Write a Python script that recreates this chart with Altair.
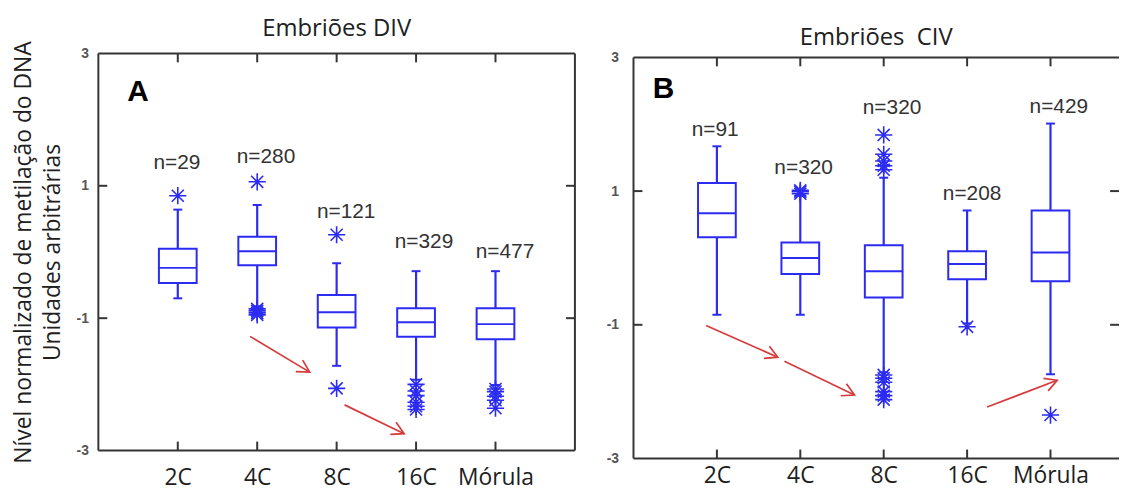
import json
import math
import altair as alt
import pandas as pd

# ---------------- data ----------------
stages = ["2C", "4C", "8C", "16C", "Mórula"]
stage_pos = [1, 2, 3, 4, 5]
y_ticks = [-3, -1, 1, 3]

# Panel A - Embriões DIV
div_title = "Embriões DIV"
div_letter = "A"
div_letter_xy = [0.50, 2.42]
div_n = [29, 280, 121, 329, 477]
div_q1 = [-0.47, -0.20, -1.14, -1.28, -1.32]
div_med = [-0.24, 0.01, -0.91, -1.06, -1.09]
div_q3 = [0.05, 0.23, -0.65, -0.85, -0.85]
div_wlo = [-0.70, -0.82, -1.72, -1.93, -2.01]
div_whi = [0.64, 0.71, -0.17, -0.29, -0.29]
div_outliers = [
    [0.85],
    [1.06, -0.86, -0.89, -0.92, -0.95],
    [0.26, -2.06],
    [-2.00, -2.10, -2.17, -2.27, -2.33, -2.38],
    [-2.07, -2.11, -2.18, -2.24, -2.36],
]
div_n_x = [0.99, 2.11, 3.12, 4.10, 5.12]
div_n_y = [1.35, 1.44, 0.61, 0.15, 0.00]
div_arrows = [
    [1.91, -1.275, 2.66, -1.815],
    [3.10, -2.31, 3.85, -2.745],
]

# Panel B - Embriões CIV
civ_title = "Embriões\u00a0 CIV"
civ_letter = "B"
civ_letter_xy = [0.36, 2.52]
civ_n = [91, 320, 320, 208, 429]
civ_q1 = [0.31, -0.24, -0.59, -0.32, -0.35]
civ_med = [0.67, 0.00, -0.20, -0.09, 0.08]
civ_q3 = [1.12, 0.23, 0.19, 0.10, 0.71]
civ_wlo = [-0.85, -0.85, -1.71, -0.98, -1.74]
civ_whi = [1.67, 0.93, 1.20, 0.71, 2.01]
civ_outliers = [
    [],
    [0.96, 0.99, 1.01],
    [1.84, 1.55, 1.45, 1.38, 1.32, -1.75, -1.80, -1.86, -2.00, -2.06, -2.12],
    [-1.03],
    [-2.35],
]
civ_n_x = [0.98, 2.04, 3.10, 4.06, 5.10]
civ_n_y = [1.92, 1.35, 2.24, 0.96, 2.26]
civ_arrows = [
    [0.87, -1.01, 1.73, -1.485],
    [1.81, -1.545, 2.65, -2.05],
    [4.24, -2.23, 5.08, -1.83],
]

y_title = ["Nível normalizado de metilação do DNA", "Unidades arbitrárias"]

# ---------------- style ----------------
BLUE = "#2b2bf2"
RED = "#d63b3b"
FRAME = "#353535"
FONT = "Open Sans"
ASTERISK = "M-1,0L1,0M0,-1L0,1M-0.7,-0.7L0.7,0.7M-0.7,0.7L0.7,-0.7"
CHEVRON = "M-1,-0.55L0,0L-1,0.55"
TICK_PX = 9.0

label_expr = json.dumps(stages, ensure_ascii=False) + "[datum.value - 1]"
ylabel_expr = "datum.value < 0 ? '-' + abs(datum.value) : '' + datum.value"


def panel(title, letter, letter_xy, n, q1, med, q3, wlo, whi,
          outliers, n_x, n_y, arrows, width, px_x, frame_h, top_gap,
          ylabel_pad, xlabel_pad, right_border, ytitle):
    # frame spans y in [-3, 3]; the scale reaches a little higher when the
    # box has to sit lower under the title (top_gap pixels)
    xmax = width / px_x
    px_y = frame_h / 6.0
    ytop = 3 + top_gap / px_y
    height = frame_h + top_gap
    hw = 19.0 / px_x
    tx = TICK_PX / px_x
    ty = TICK_PX / px_y

    boxes = pd.DataFrame({
        "pos": stage_pos, "stage": stages, "n": n, "q1": q1, "med": med,
        "q3": q3, "wlo": wlo, "whi": whi, "nx": n_x, "ny": n_y,
    })
    boxes["label"] = ["n=" + str(v) for v in n]
    boxes["x1"] = boxes["pos"] - hw
    boxes["x2"] = boxes["pos"] + hw

    out_rows = []
    for p, vals in zip(stage_pos, outliers):
        for v in vals:
            out_rows.append({"pos": p, "v": v})
    out_df = pd.DataFrame(out_rows, columns=["pos", "v"])

    cap_rows = []
    for p, lo, hi in zip(stage_pos, wlo, whi):
        cap_rows.append({"pos": p, "v": lo})
        cap_rows.append({"pos": p, "v": hi})
    cap_df = pd.DataFrame(cap_rows)

    arr_rows = []
    for x1, y1, x2, y2 in arrows:
        ang = math.degrees(math.atan2(-(y2 - y1) * px_y, (x2 - x1) * px_x)) % 360
        arr_rows.append({"x1": x1, "y1": y1, "x2": x2, "y2": y2, "angle": ang})
    arr_df = pd.DataFrame(arr_rows)

    # frame and inward ticks (MATLAB-style box)
    seg = [
        {"x": 0, "x2": xmax, "y": -3, "y2": -3},
        {"x": 0, "x2": xmax, "y": 3, "y2": 3},
        {"x": 0, "x2": 0, "y": -3, "y2": 3},
    ]
    if right_border:
        seg.append({"x": xmax, "x2": xmax, "y": -3, "y2": 3})
    for p in stage_pos:
        seg.append({"x": p, "x2": p, "y": -3, "y2": -3 + ty})
        seg.append({"x": p, "x2": p, "y": 3, "y2": 3 - ty})
    for yy in (-1, 1):
        seg.append({"x": 0, "x2": tx, "y": yy, "y2": yy})
        seg.append({"x": xmax - tx, "x2": xmax, "y": yy, "y2": yy})
    seg_df = pd.DataFrame(seg)

    letter_df = pd.DataFrame({"x": [letter_xy[0]], "y": [letter_xy[1]], "t": [letter]})

    xs = alt.Scale(domain=[0, xmax], nice=False, zero=False)
    ys = alt.Scale(domain=[-3, ytop], nice=False, zero=False)

    x_axis = alt.Axis(values=stage_pos, labelExpr=label_expr, title=None,
                      domain=False, ticks=False, grid=False, labelFont=FONT,
                      labelFontSize=23, labelColor="#1e1e1e",
                      labelPadding=xlabel_pad, labelFlush=False)
    if ytitle:
        y_axis = alt.Axis(values=y_ticks, labelExpr=ylabel_expr, title=ytitle,
                          domain=False, ticks=False, grid=False,
                          labelFont="Liberation Sans", labelFontWeight="bold",
                          labelFontSize=14, labelColor="#555555",
                          labelPadding=ylabel_pad, titleFont=FONT,
                          titleFontSize=23, titleFontWeight="normal",
                          titleColor="#202020", titleAngle=270,
                          titleAlign="center", titleBaseline="top",
                          titleX=-86, titleY=height / 2, titleLineHeight=29)
    else:
        y_axis = alt.Axis(values=y_ticks, labelExpr=ylabel_expr, title=None,
                          domain=False, ticks=False, grid=False,
                          labelFont="Liberation Sans", labelFontWeight="bold",
                          labelFontSize=14, labelColor="#555555",
                          labelPadding=ylabel_pad)

    def X(f):
        return alt.X(f + ":Q", scale=xs, axis=x_axis)

    def Y(f):
        return alt.Y(f + ":Q", scale=ys, axis=y_axis)

    base = alt.Chart(boxes)
    frame = alt.Chart(seg_df).mark_rule(color=FRAME, strokeWidth=2).encode(
        x=X("x"), x2="x2", y=Y("y"), y2="y2")
    rects = base.mark_rect(fillOpacity=0, stroke=BLUE, strokeWidth=2).encode(
        x=X("x1"), x2="x2", y=Y("q1"), y2="q3")
    medians = base.mark_rule(color=BLUE, strokeWidth=2).encode(
        x=X("x1"), x2="x2", y=Y("med"))
    wh_hi = base.mark_rule(color=BLUE, strokeWidth=2.2).encode(
        x=X("pos"), y=Y("q3"), y2="whi")
    wh_lo = base.mark_rule(color=BLUE, strokeWidth=2.2).encode(
        x=X("pos"), y=Y("q1"), y2="wlo")
    caps = alt.Chart(cap_df).mark_tick(orient="horizontal", size=9, thickness=2,
                                       color=BLUE, opacity=1).encode(
        x=X("pos"), y=Y("v"))
    outs = alt.Chart(out_df).mark_point(shape=ASTERISK, filled=False, stroke=BLUE,
                                        strokeWidth=1.6, size=300, opacity=1).encode(
        x=X("pos"), y=Y("v"))
    nlab = base.mark_text(font="Liberation Sans", fontSize=21, color="#333333",
                          baseline="middle").encode(
        x=X("nx"), y=Y("ny"), text="label:N")
    arr_line = alt.Chart(arr_df).mark_rule(color=RED, strokeWidth=1.7).encode(
        x=X("x1"), y=Y("y1"), x2="x2", y2="y2")
    arr_head = alt.Chart(arr_df).mark_point(shape=CHEVRON, filled=False, stroke=RED,
                                            strokeWidth=1.7, size=600, opacity=1).encode(
        x=X("x2"), y=Y("y2"), angle=alt.Angle("angle:Q", scale=None))
    let = alt.Chart(letter_df).mark_text(font="Liberation Sans", fontWeight="bold",
                                         fontSize=30, color="#000000",
                                         baseline="middle").encode(
        x=X("x"), y=Y("y"), text="t:N")

    return alt.layer(frame, wh_hi, wh_lo, caps, rects, medians, outs,
                     nlab, arr_line, arr_head, let).properties(
        width=width, height=height,
        title=alt.TitleParams(title, font=FONT, fontSize=24, fontWeight="normal",
                              color="#202020", offset=0, anchor="middle"))


pa = panel(div_title, div_letter, div_letter_xy, div_n, div_q1, div_med, div_q3,
           div_wlo, div_whi, div_outliers, div_n_x, div_n_y, div_arrows,
           width=480, px_x=80.0, frame_h=400, top_gap=0, ylabel_pad=10,
           xlabel_pad=16, right_border=True, ytitle=y_title)
pb = panel(civ_title, civ_letter, civ_letter_xy, civ_n, civ_q1, civ_med, civ_q3,
           civ_wlo, civ_whi, civ_outliers, civ_n_x, civ_n_y, civ_arrows,
           width=489, px_x=84.0, frame_h=404, top_gap=4, ylabel_pad=15,
           xlabel_pad=6, right_border=False, ytitle=None)

chart = alt.hconcat(pa, pb, spacing=30).configure_view(strokeWidth=0).properties(
    padding={"left": 4, "top": 7, "right": 0, "bottom": 0}, background="white")

chart.save("out.html", embed_options={"renderer": "svg", "actions": False})
